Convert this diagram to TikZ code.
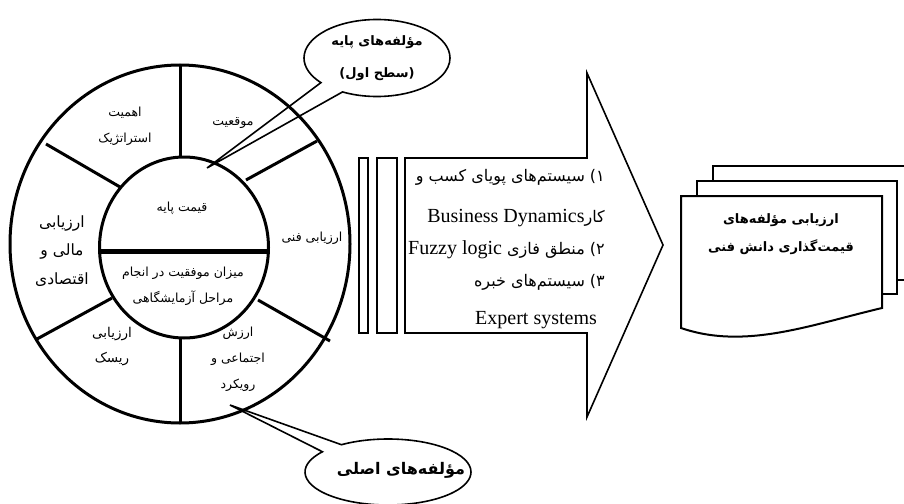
\documentclass[tikz,border=0pt]{standalone}
\usepackage{fontspec}
\setmainfont{Liberation Serif}
\newfontfamily\fa[Script=Arabic]{DejaVu Sans}
\TeXXeTstate=1
\usetikzlibrary{shapes.callouts}
\newcommand\RL[1]{{\fa\beginR #1\endR}}
\newcommand\LR[1]{{\rmfamily\beginL #1\endL}}
\begin{document}
\begin{tikzpicture}[x=1pt,y=-1pt,
  ring/.style={line width=3pt},
  thinl/.style={line width=1.6pt},
  seg/.style={font=\fa\fontsize{12.5}{26}\selectfont, inner sep=0pt, align=center},
  segbig/.style={font=\fa\fontsize{15.5}{28.5}\selectfont, inner sep=0pt, align=center},
  call/.style={ellipse callout, draw, line width=1.6pt, inner sep=0pt, align=center},
  arr/.style={inner sep=0pt, font=\fontsize{20}{24}\selectfont},
  arrfa/.style={inner sep=0pt, font=\fontsize{16}{24}\selectfont},
  page/.style={draw, fill=white, line width=2pt},
  bold/.style={font=\fa\bfseries\fontsize{13}{28}\selectfont, inner sep=0pt, align=center},
]
\useasboundingbox (0,0) rectangle (904,503);

% ring
\draw[ring] (180,244) ellipse [x radius=170, y radius=179];
\draw[ring] (184,247.5) ellipse [x radius=84.5, y radius=90.5];
\draw[line width=5pt] (100,251) -- (268,251);
\draw[ring] (180,64) -- (180,158);
\draw[ring] (246,180) -- (317,141);
\draw[ring] (120,187) -- (46,144);
\draw[ring] (112,298) -- (37,339);
\draw[ring] (258,300) -- (330,341);
\draw[ring] (180,338) -- (180,424);

% segment labels
\node[seg] (t1) at (125,126) {\RL{اهمیت}\\\RL{استراتژیک}};
\node[seg] (t2) at (233,123) {\RL{موقعیت}};
\node[seg] (t3) at (312,238) {\RL{ارزیابی فنی}};
\node[seg] (t4) at (182,208) {\RL{قیمت پایه}};
\node[seg] (t5) at (183,286) {\RL{میزان موفقیت در انجام}\\\RL{مراحل آزمایشگاهی}};
\node[segbig] (t6) at (62,251) {\RL{ارزیابی}\\\RL{مالی و}\\\RL{اقتصادی}};
\node[seg, font=\fa\fontsize{13.5}{25}\selectfont] (t7) at (112,347) {\RL{ارزیابی}\\\RL{ریسک}};
\node[seg] (t8) at (238,359) {\RL{ارزش}\\\RL{اجتماعی و}\\\RL{رویکرد}};

% callouts
\coordinate (tipA) at (207,168);
\node[call, minimum width=146pt, minimum height=77pt, callout absolute pointer={(tipA)}, callout pointer arc=22,
  font=\fa\bfseries\fontsize{13}{32}\selectfont] (calA) at (377,58) {\RL{مؤلفه‌های پایه}\\\RL{(سطح اول)}};
\coordinate (tipB) at (230,405);
\node[call, minimum width=166pt, minimum height=66pt, callout absolute pointer={(tipB)}, callout pointer arc=18] (calB) at (388,472) {};
\node[font=\fa\bfseries\fontsize{16}{18}\selectfont, inner sep=0pt] (calBt) at (401,470) {\RL{مؤلفه‌های اصلی}};

% bars
\draw[thinl] (359,158) rectangle (368,333);
\draw[thinl] (377,158) rectangle (397,333);

% arrow
\draw[thinl, line join=miter] (405,158) -- (587,158) -- (587,73) -- (663,245) -- (587,417) -- (587,333) -- (405,333) -- cycle;
\node[arrfa, anchor=east] (a1) at (605,177) {\RL{۱) سیستم‌های پویای کسب و}};
\node[arrfa, anchor=east] (a2) at (605,218) {\RL{کار\LR{\fontsize{20}{24}\selectfont Business Dynamics}}};
\node[arrfa, anchor=east] (a3) at (605,250) {\RL{۲) منطق فازی \LR{\fontsize{20}{24}\selectfont Fuzzy logic}}};
\node[arrfa, anchor=east] (a4) at (605,282) {\RL{۳) سیستم‌های خبره}};
\node[arr] (a5) at (536,320) {Expert systems};

% document stack
\draw[page] (713,166) rectangle (930,280);
\draw[page] (697,181) rectangle (897,294);
\draw[page] (681,196) -- (882,196) -- (882,308) .. controls (810,325) and (745,350) .. (681,328) -- cycle;
\node[bold] (doc) at (781,234) {\RL{ارزیابی مؤلفه‌های}\\\RL{قیمت‌گذاری دانش فنی}};
\end{tikzpicture}
\end{document}
